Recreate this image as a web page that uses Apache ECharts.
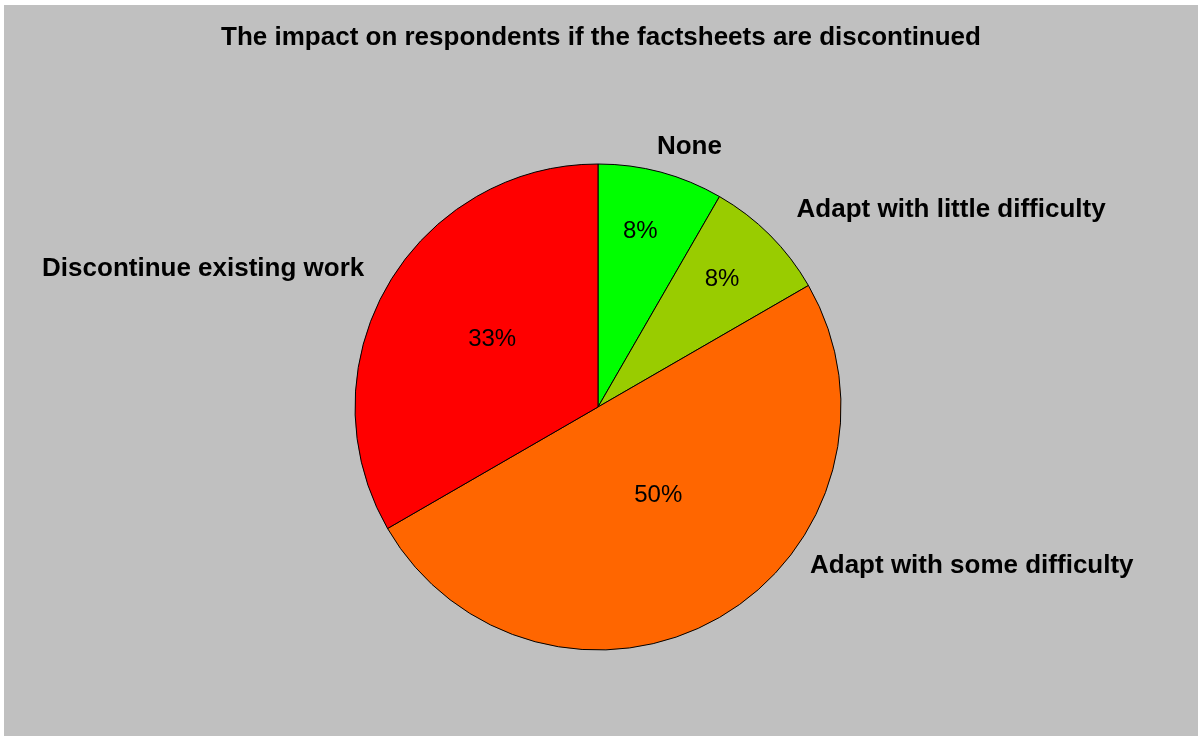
<!DOCTYPE html>
<html>
<head>
<meta charset="utf-8">
<script src="https://cdn.jsdelivr.net/npm/echarts@6/dist/echarts.min.js"></script>
<style>
html,body{margin:0;padding:0;background:#ffffff;width:1198px;height:736px;overflow:hidden;}
#chart{position:absolute;left:4px;top:5px;width:1194px;height:731px;background:#C0C0C0;}
</style>
</head>
<body>
<div id="chart"></div>
<script>
var titleText = 'The impact on respondents if the factsheets are discontinued';
var categories = ['None', 'Adapt with little difficulty', 'Adapt with some difficulty', 'Discontinue existing work'];
var values = [1, 1, 6, 4];
var colors = ['#00FF00', '#99CC00', '#FF6600', '#FF0000'];

var outerOffsets = [[-18, 8], [-3, -1], [68, -82], [12, 1]];
var innerOffsets = [[10, -55], [36, -40], [-2, -19], [2, -5]];

var chart = echarts.init(document.getElementById('chart'), null, {renderer: 'canvas'});
var FONT = '"Liberation Sans", Arial, sans-serif';

var pieData = categories.map(function (c, i) {
  return {name: c, value: values[i], itemStyle: {color: colors[i]}};
});

chart.setOption({
  backgroundColor: '#C0C0C0',
  animation: false,
  title: {
    text: titleText,
    left: 'center',
    top: 15,
    textStyle: {fontFamily: FONT, fontSize: 26, fontWeight: 'bold', color: '#000'}
  },
  series: [
    {
      type: 'pie',
      center: [594, 402],
      radius: [0, 243],
      startAngle: 90,
      clockwise: true,
      avoidLabelOverlap: false,
      data: pieData,
      itemStyle: {borderColor: '#000', borderWidth: 1},
      label: {
        show: true,
        position: 'inside',
        formatter: function (p) { return Math.round(p.percent) + '%'; },
        fontFamily: FONT, fontSize: 24, color: '#000'
      },
      labelLine: {show: false},
      labelLayout: function (p) {
        var o = innerOffsets[p.dataIndex];
        return {dx: o[0], dy: o[1]};
      },
      emphasis: {disabled: true}
    },
    {
      type: 'pie',
      center: [594, 402],
      radius: [0, 243],
      startAngle: 90,
      clockwise: true,
      silent: true,
      avoidLabelOverlap: false,
      data: pieData.map(function (d) {
        return {name: d.name, value: d.value, itemStyle: {color: 'rgba(0,0,0,0)'}};
      }),
      itemStyle: {borderWidth: 0},
      label: {
        show: true,
        position: 'outside',
        formatter: '{b}',
        fontFamily: FONT, fontSize: 26, fontWeight: 'bold', color: '#000',
        distanceToLabelLine: 5
      },
      labelLine: {show: false, length: 35, length2: 0},
      labelLayout: function (p) {
        var o = outerOffsets[p.dataIndex];
        return {dx: o[0], dy: o[1]};
      },
      emphasis: {disabled: true}
    }
  ]
});
</script>
</body>
</html>
